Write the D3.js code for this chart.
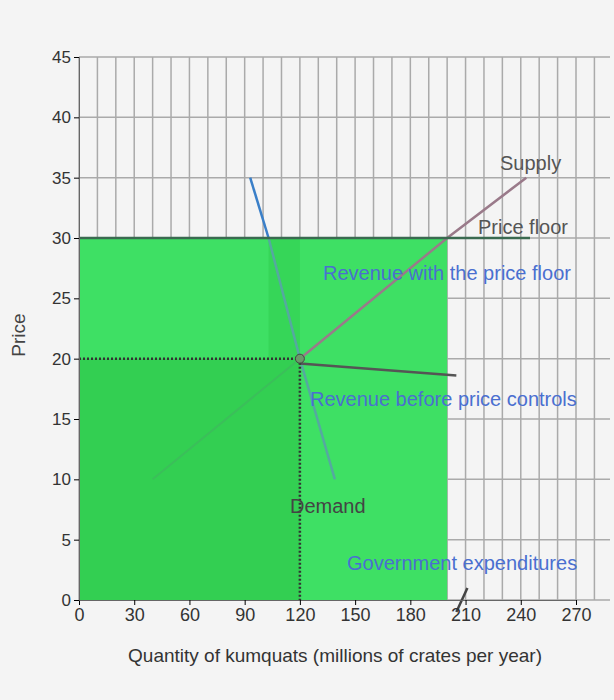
<!DOCTYPE html><html><head><script src="https://cdn.jsdelivr.net/npm/d3@7"></script>
<style>body{margin:0;background:#f4f4f4}text{font-family:"Liberation Sans",Arial,sans-serif}</style></head><body>
<svg id="c" width="614" height="700"></svg>
<script>
const xTicks=[0,30,60,90,120,150,180,210,240,270];
const yTicks=[0,5,10,15,20,25,30,35,40,45];
const supplyLow=[[40,10],[120,20]];
const supplyHigh=[[120,20],[200,30],[243,35]];
const demandHigh=[[93,35],[103,30]];
const demandLow=[[103,30],[120,20],[139,10]];
const priceFloor=[[0,30],[245,30]];
const surplusLine=[[120,19.6],[205,18.6]];
const floorPrice=30, eqP=20, eqQ=120, floorQ=200;
const labels=[["Supply",500,170,"#555"],["Price floor",478,234,"#555"],["Revenue with the price floor",323,280,"#4a6fd0"],["Revenue before price controls",310,406,"#4a6fd0"],["Demand",290,513,"#444"],["Government expenditures",347,570,"#4a6fd0"]];
const svg=d3.select("#c");
const x=d3.scaleLinear().domain([0,270]).range([79,576]);
const y=d3.scaleLinear().domain([0,45]).range([600,57]);
for(let v=0;v<=290;v+=10) if(x(v)<=610) svg.append("line").attr("x1",x(v)).attr("x2",x(v)).attr("y1",y(45)).attr("y2",y(0)).attr("stroke","#aaa").attr("stroke-width",1.5);
for(let v=0;v<=45;v+=5) svg.append("line").attr("x1",x(0)).attr("x2",610).attr("y1",y(v)).attr("y2",y(v)).attr("stroke","#aaa").attr("stroke-width",1.5);
svg.append("rect").attr("x",x(0)).attr("y",y(floorPrice)).attr("width",x(floorQ)-x(0)).attr("height",y(0)-y(floorPrice)).attr("fill","#3ee064");
svg.append("rect").attr("x",x(0)).attr("y",y(eqP)).attr("width",x(eqQ)-x(0)).attr("height",y(0)-y(eqP)).attr("fill","#33cf52");
svg.append("rect").attr("x",x(103)).attr("y",y(floorPrice)).attr("width",x(eqQ)-x(103)).attr("height",y(eqP)-y(floorPrice)).attr("fill","#36d658");
const ln=d3.line().x(d=>x(d[0])).y(d=>y(d[1]));
svg.append("path").attr("d",ln(supplyLow)).attr("stroke","#3bbf5a").attr("stroke-width",2).attr("fill","none");
svg.append("path").attr("d",ln(supplyHigh)).attr("stroke","#9a7a8a").attr("stroke-width",2.5).attr("fill","none");
svg.append("path").attr("d",ln(demandLow)).attr("stroke","#55a9a0").attr("stroke-width",2.5).attr("fill","none");
svg.append("path").attr("d",ln(demandHigh)).attr("stroke","#3a7fc8").attr("stroke-width",2.5).attr("fill","none");
svg.append("path").attr("d",ln(priceFloor)).attr("stroke","#3a6a50").attr("stroke-width",2.5).attr("fill","none");
svg.append("path").attr("d",ln(surplusLine)).attr("stroke","#555").attr("stroke-width",2.5).attr("fill","none");
svg.append("path").attr("d",ln([[0,eqP],[eqQ,eqP]])).attr("stroke","#333").attr("stroke-width",2.5).attr("stroke-dasharray","2,2").attr("fill","none");
svg.append("path").attr("d",ln([[eqQ,eqP],[eqQ,0]])).attr("stroke","#333").attr("stroke-width",2.5).attr("stroke-dasharray","2,2").attr("fill","none");
svg.append("circle").attr("cx",x(eqQ)).attr("cy",y(eqP)).attr("r",4.5).attr("fill","#6a9a6a").attr("stroke","#444");
svg.append("path").attr("d",ln([[205,-1],[211,1]])).attr("stroke","#444").attr("stroke-width",2.5);
svg.append("g").attr("transform",`translate(0,${y(0)})`).call(d3.axisBottom(x).tickValues(xTicks).tickSize(5)).call(g=>{g.selectAll("text").attr("font-size",18).attr("fill","#333");g.select(".domain").attr("stroke","#666");});
svg.append("g").attr("transform",`translate(${x(0)},0)`).call(d3.axisLeft(y).tickValues(yTicks).tickSize(5)).call(g=>{g.selectAll("text").attr("font-size",17).attr("fill","#333");g.select(".domain").attr("stroke","#666");});
for(const [t,lx,ly,c] of labels) svg.append("text").attr("x",lx).attr("y",ly).attr("fill",c).attr("font-size",20).attr("textLength",t.length>12?null:null).text(t);
svg.append("text").attr("transform","translate(25,335) rotate(-90)").attr("text-anchor","middle").attr("font-size",19).attr("fill","#444").text("Price");
svg.append("text").attr("x",335).attr("y",662).attr("text-anchor","middle").attr("font-size",19).attr("fill","#333").text("Quantity of kumquats (millions of crates per year)");
</script></body></html>
